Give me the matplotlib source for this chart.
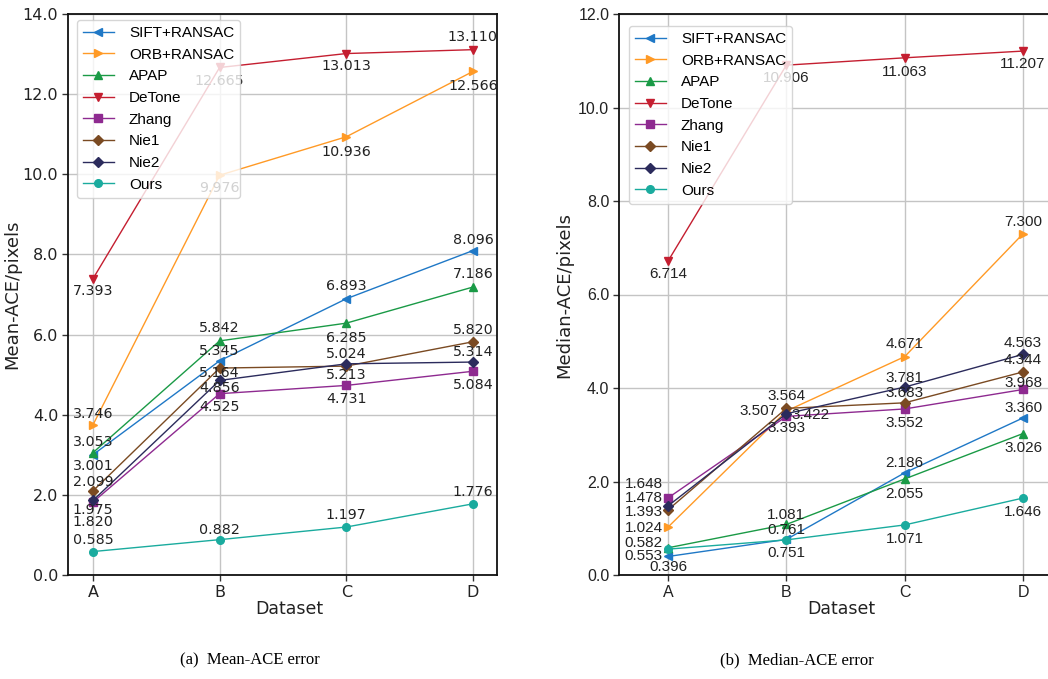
import matplotlib
matplotlib.use('Agg')
import matplotlib.pyplot as plt
from matplotlib.ticker import FormatStrFormatter


# data
datasets = ['A', 'B', 'C', 'D']
methods = ['SIFT+RANSAC', 'ORB+RANSAC', 'APAP', 'DeTone', 'Zhang', 'Nie1', 'Nie2', 'Ours']

# (a) mean ACE
mean_sift = [3.001, 5.345, 6.893, 8.096]
mean_orb = [3.746, 9.976, 10.936, 12.566]
mean_apap = [3.053, 5.842, 6.285, 7.186]
mean_detone = [7.393, 12.665, 13.013, 13.110]
mean_zhang = [1.820, 4.525, 4.731, 5.084]
mean_nie1 = [2.099, 5.164, 5.213, 5.820]
mean_nie2 = [1.860, 4.856, 5.270, 5.314]
mean_ours = [0.585, 0.882, 1.197, 1.776]
mean_nie2_text = ['1.975', '4.856', '5.024', '5.314']   # printed labels differ from plotted points

# (b) median ACE
median_sift = [0.396, 0.761, 2.186, 3.360]
median_orb = [1.024, 3.507, 4.671, 7.300]
median_apap = [0.582, 1.081, 2.055, 3.026]
median_detone = [6.714, 10.906, 11.063, 11.207]
median_zhang = [1.648, 3.393, 3.552, 3.968]
median_nie1 = [1.393, 3.564, 3.683, 4.344]
median_nie2 = [1.478, 3.450, 4.020, 4.720]
median_ours = [0.553, 0.751, 1.071, 1.646]
median_nie2_text = ['1.478', '3.422', '3.781', '4.563']

colors = ['#1f78c6', '#ff9a26', '#1a9a46', '#c41e30', '#8e2a90', '#7a4a22', '#2b2b5c', '#1aab9e']
markers = ['<', '>', '^', 'v', 's', 'D', 'D', 'o']
msizes = [6, 6, 6, 6, 5.5, 5, 5, 5.5]

# label offsets in pixels (dx, dy) for each point
mean_offsets = [
    [(0, -11), (0, 10), (0, 13), (0, 11)],
    [(0, 11), (0, -13), (0, -15), (0, -15)],
    [(0, 11), (0, 13), (0, -15), (0, 13)],
    [(0, -12), (0, -14), (0, -12.5), (0, 13)],
    [(0, -20), (0, -13), (0, -14), (0, -14)],
    [(0, 9), (0, -5), (0, -8.5), (0, 12)],
    [(0, -9.5), (0, -8), (0, 10), (0, 10)],
    [(0, 12), (0, 10), (0, 12), (0, 12)],
]
median_offsets = [
    [(0, -11), (0, 9.5), (0, 10), (0, 10)],
    [(-5, -0.5), (-9, 0), (0, 13), (0, 12)],
    [(-5, 4.5), (0, 9.5), (0, -15), (0, -14)],
    [(0, -13), (0, -13), (0, -14), (0, -13)],
    [(-5, 14), (0, -12), (0, -14), (0, 6.6)],
    [(-5, -2.5), (0, 12.5), (0, 10), (0, 11.5)],
    [(-5, 7.5), (5, -1.5), (0, 9), (0, 11)],
    [(-5, -6.7), (0, -13.6), (0, -14), (0, -14)],
]


def ha_for(dx):
    if dx < 0:
        return 'right'
    if dx > 0:
        return 'left'
    return 'center'


def draw_panel(ax, series, texts, offsets, numfont, numsize, tickfont, ylabel, ymax):
    x = list(range(len(datasets)))
    for i, name in enumerate(methods):
        ax.plot(x, series[i], color=colors[i], marker=markers[i], markersize=msizes[i],
                linewidth=1.0, label=name, zorder=3)
        for j in range(len(x)):
            dx, dy = offsets[i][j]
            ax.annotate(texts[i][j], (x[j], series[i][j]), xytext=(dx, dy),
                        textcoords='offset pixels', ha=ha_for(dx), va='center',
                        fontsize=numsize, family=numfont, color='#222222', zorder=4)
    ax.set_ylim(0, ymax)
    ax.set_yticks(range(0, ymax + 1, 2))
    ax.yaxis.set_major_formatter(FormatStrFormatter('%.1f'))
    ax.set_xticks(x)
    ax.set_xticklabels(datasets)
    for lab in ax.get_xticklabels() + ax.get_yticklabels():
        lab.set_family(tickfont)
        lab.set_fontsize(11.5)
        lab.set_color('#222222')
    ax.grid(True, color='#c4c4c4', linewidth=1.0, zorder=0)
    ax.set_axisbelow(True)
    for s in ax.spines.values():
        s.set_color('#111111')
        s.set_linewidth(1.3)
    ax.tick_params(direction='out', length=4, width=1, color='#333333', pad=3)
    ax.set_xlabel('Dataset', fontsize=12.5, family='DejaVu Sans', color='#222222')
    ax.set_ylabel(ylabel, fontsize=13, family='DejaVu Sans', color='#222222')


fig = plt.figure(figsize=(10.48, 6.79), dpi=100)

# (a) mean
ax1 = fig.add_axes([68 / 1048, 104 / 679, 429 / 1048, 561 / 679])
mean_series = [mean_sift, mean_orb, mean_apap, mean_detone, mean_zhang, mean_nie1, mean_nie2, mean_ours]
mean_texts = [['%.3f' % v for v in s] for s in mean_series]
mean_texts[6] = mean_nie2_text
draw_panel(ax1, mean_series, mean_texts, mean_offsets, 'DejaVu Sans', 10.3, 'DejaVu Sans',
           'Mean-ACE/pixels', 14)
ax1.set_xlim(-0.197, 3.19)
ax1.xaxis.set_label_coords(0.517, -0.045)
ax1.yaxis.set_label_coords(-0.109, 0.5)
leg1 = ax1.legend(loc='upper left', bbox_to_anchor=(9 / 429, 1 - 6 / 561),
                  prop={'family': 'Liberation Sans', 'size': 11}, framealpha=0.8,
                  edgecolor='#cccccc', borderaxespad=0, handletextpad=1.0)
leg1.set_zorder(10)

# (b) median
ax2 = fig.add_axes([619 / 1048, 104 / 679, 436 / 1048, 561 / 679])
median_series = [median_sift, median_orb, median_apap, median_detone, median_zhang, median_nie1,
                 median_nie2, median_ours]
median_texts = [['%.3f' % v for v in s] for s in median_series]
median_texts[6] = median_nie2_text
draw_panel(ax2, median_series, median_texts, median_offsets, 'Liberation Sans', 11, 'Liberation Sans',
           'Median-ACE/pixels', 12)
ax2.set_xlim(-0.414, 3.27)
ax2.xaxis.set_label_coords(0.509, -0.045)
ax2.yaxis.set_label_coords(-0.105, 0.5)
leg2 = ax2.legend(loc='upper left', bbox_to_anchor=(10 / 436, 1 - 12 / 561),
                  prop={'family': 'Liberation Sans', 'size': 11}, framealpha=0.8,
                  edgecolor='#cccccc', borderaxespad=0, handletextpad=1.0)
leg2.set_zorder(10)

# captions under the panels
fig.text(250 / 1048, 19 / 679, '(a)  Mean-ACE error', ha='center', va='center',
         family='Liberation Serif', fontsize=12)
fig.text(797 / 1048, 19 / 679, '(b)  Median-ACE error', ha='center', va='center',
         family='Liberation Serif', fontsize=12)

fig.savefig('out.png', dpi=100)
